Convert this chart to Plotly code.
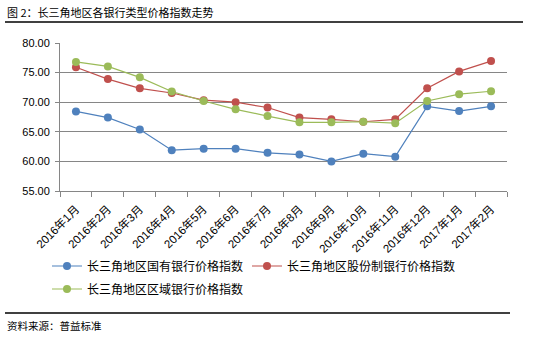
import plotly.graph_objects as go

categories = ["2016年1月", "2016年2月", "2016年3月", "2016年4月", "2016年5月", "2016年6月",
              "2016年7月", "2016年8月", "2016年9月", "2016年10月", "2016年11月", "2016年12月",
              "2017年1月", "2017年2月"]
state_owned = [68.44, 67.4, 65.4, 61.9, 62.15, 62.15, 61.45, 61.15, 60.0, 61.3, 60.8, 69.3, 68.5, 69.3]
joint_stock = [75.9, 73.9, 72.35, 71.55, 70.35, 70.0, 69.1, 67.4, 67.1, 66.7, 67.1, 72.35, 75.2, 76.95]
regional = [76.8, 76.05, 74.2, 71.8, 70.2, 68.8, 67.65, 66.6, 66.6, 66.7, 66.45, 70.2, 71.35, 71.85]

series_names = ["长三角地区国有银行价格指数", "长三角地区股份制银行价格指数", "长三角地区区域银行价格指数"]
series_colors = ["#4F81BD", "#C0504D", "#9BBB59"]
series_legends = ["legend", "legend2", "legend3"]
y_ticks = [55, 60, 65, 70, 75, 80]

W, H = 534, 338
L, R, T, B = 60, 27, 43, 147
pw, ph = W - L - R, H - T - B


def px(x):
    return (x - L) / pw


def py(y):
    return (H - B - y) / ph


cjk = "Noto Sans CJK SC, Liberation Sans, sans-serif"
latin_cjk = "Liberation Sans, Noto Sans CJK SC, sans-serif"

fig = go.Figure()
for name, vals, col, lg in zip(series_names, [state_owned, joint_stock, regional], series_colors, series_legends):
    fig.add_trace(go.Scatter(
        x=categories, y=vals, name=name, mode="lines+markers",
        line=dict(color=col, width=1.2),
        marker=dict(color=col, size=8),
        legend=lg,
    ))

legend_common = dict(
    orientation="h", xanchor="left", yanchor="middle",
    font=dict(family=cjk, size=12, color="#000000"),
    tracegroupgap=0, itemwidth=30, bgcolor="rgba(0,0,0,0)",
)

fig.update_layout(
    width=W, height=H,
    margin=dict(l=L, r=R, t=T, b=B),
    paper_bgcolor="white", plot_bgcolor="white",
    showlegend=True,
    legend=dict(x=px(47), y=py(266), **legend_common),
    legend2=dict(x=px(247), y=py(266), **legend_common),
    legend3=dict(x=px(47), y=py(289), **legend_common),
    xaxis=dict(
        type="category", tickson="boundaries", ticks="outside", ticklen=5,
        tickcolor="#868686", showline=True, linecolor="#868686", linewidth=1,
        showgrid=False, tickangle=-45, ticklabelstandoff=6,
        tickfont=dict(family=latin_cjk, size=11.5, color="#000000"),
        range=[-0.5, len(categories) - 0.5],
    ),
    yaxis=dict(
        range=[55, 80], tickvals=y_ticks, ticktext=[f"{v:.2f}" for v in y_ticks],
        ticks="outside", ticklen=4, tickcolor="#868686",
        showline=True, linecolor="#868686", linewidth=1,
        showgrid=True, gridcolor="#868686", gridwidth=1,
        tickfont=dict(family="Liberation Sans, Arial, sans-serif", size=11, color="#000000"),
        ticklabelstandoff=3,
        zeroline=False,
    ),
    annotations=[
        dict(text="图 2：长三角地区各银行类型价格指数走势", x=px(5), y=py(12), xref="paper", yref="paper",
             xanchor="left", yanchor="middle", showarrow=False,
             font=dict(family=cjk, size=11, color="#000000")),
        dict(text="资料来源：普益标准", x=px(5), y=py(325), xref="paper", yref="paper",
             xanchor="left", yanchor="middle", showarrow=False,
             font=dict(family=cjk, size=10.5, color="#000000")),
    ],
    shapes=[
        dict(type="line", xref="paper", yref="paper", x0=px(5), x1=px(523), y0=py(22), y1=py(22),
             line=dict(color="#000000", width=1.5)),
        dict(type="line", xref="paper", yref="paper", x0=px(5), x1=px(510), y0=py(313), y1=py(313),
             line=dict(color="#000000", width=1.5)),
    ],
)

fig.write_html("out.html")
